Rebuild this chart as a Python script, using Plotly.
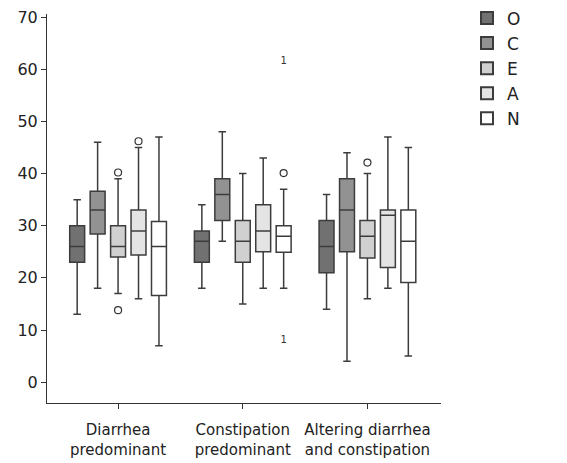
import plotly.graph_objects as go

categories = ["Diarrhea<br>predominant", "Constipation<br>predominant", "Altering diarrhea<br>and constipation"]
series = ["O", "C", "E", "A", "N"]
colors = ["#717171", "#929292", "#d0d0d0", "#e4e4e4", "#ffffff"]

# per series: values for the three categories
lower = {"O": [13, 18, 14], "C": [18, 27, 4], "E": [17, 15, 16], "A": [16, 18, 18], "N": [7, 18, 5]}
q1 = {"O": [23, 23, 21], "C": [28.4, 31, 25], "E": [24, 23, 23.8], "A": [24.4, 25, 22], "N": [16.6, 24.9, 19.1]}
median = {"O": [26, 27, 26], "C": [33, 36, 33], "E": [26, 27, 28], "A": [29, 29, 32], "N": [26, 28, 27]}
q3 = {"O": [30, 29, 31], "C": [36.6, 39, 39], "E": [30, 31, 31], "A": [33, 34, 33], "N": [30.8, 30, 33]}
upper = {"O": [35, 34, 36], "C": [46, 48, 44], "E": [39, 40, 40], "A": [45, 43, 47], "N": [47, 37, 45]}

# outliers (circles): series -> (category index, value)
outliers = {"E": [(0, 40.2), (0, 13.8), (2, 42.1)], "A": [(0, 46.2)], "N": [(1, 40.1)]}
# case labels drawn as "1"
labels = {"N": [(1, 61.4, "1"), (1, 8.0, "1")]}

fig = go.Figure()
for s, c in zip(series, colors):
    fig.add_trace(go.Box(
        name=s, x=categories, offsetgroup=s,
        q1=q1[s], median=median[s], q3=q3[s],
        lowerfence=lower[s], upperfence=upper[s],
        fillcolor=c, line=dict(color="#3c3c3c", width=1.5),
        whiskerwidth=0.5, boxpoints=False,
    ))

for s in series:
    if s in outliers:
        pts = outliers[s]
        fig.add_trace(go.Scatter(
            x=[categories[i] for i, _ in pts], y=[v for _, v in pts],
            mode="markers", offsetgroup=s, showlegend=False,
            marker=dict(symbol="circle-open", size=7, color="#333333", line=dict(width=1.2)),
            hoverinfo="skip",
        ))
    if s in labels:
        pts = labels[s]
        fig.add_trace(go.Scatter(
            x=[categories[i] for i, _, _ in pts], y=[v for _, v, _ in pts],
            text=[t for _, _, t in pts], mode="text", offsetgroup=s, showlegend=False,
            textfont=dict(size=10, color="#333333", family="DejaVu Sans"),
            hoverinfo="skip",
        ))

fig.update_layout(
    width=567, height=463,
    margin=dict(l=39, r=134, t=6, b=68, autoexpand=False),
    paper_bgcolor="white", plot_bgcolor="white",
    boxmode="group", boxgap=0.18, boxgroupgap=0.27,
    scattermode="group", scattergap=0.18,
    font=dict(family="DejaVu Sans", color="#222222"),
    showlegend=True,
    legend=dict(x=1.066, y=1.035, xanchor="left", yanchor="top", xref="paper", yref="paper",
                font=dict(size=17, family="DejaVu Sans", color="#222222"),
                bgcolor="rgba(0,0,0,0)", tracegroupgap=0, itemsizing="constant"),
    xaxis=dict(type="category", range=[-0.57, 2.59], showline=True, linecolor="#333333", linewidth=1,
               ticks="outside", ticklen=5, tickcolor="#333333", showgrid=False, zeroline=False,
               automargin=False, ticklabelstandoff=8, ticklabeloverflow="allow",
               tickfont=dict(size=15, family="DejaVu Sans", color="#222222")),
    yaxis=dict(range=[-4, 70.6], tickvals=[0, 10, 20, 30, 40, 50, 60, 70], showline=True,
               linecolor="#333333", linewidth=1, ticks="outside", ticklen=5, tickcolor="#333333",
               showgrid=False, zeroline=False, automargin=False, ticklabeloverflow="allow",
               tickfont=dict(size=16, family="DejaVu Sans", color="#222222")),
)

fig.write_html("out.html")
